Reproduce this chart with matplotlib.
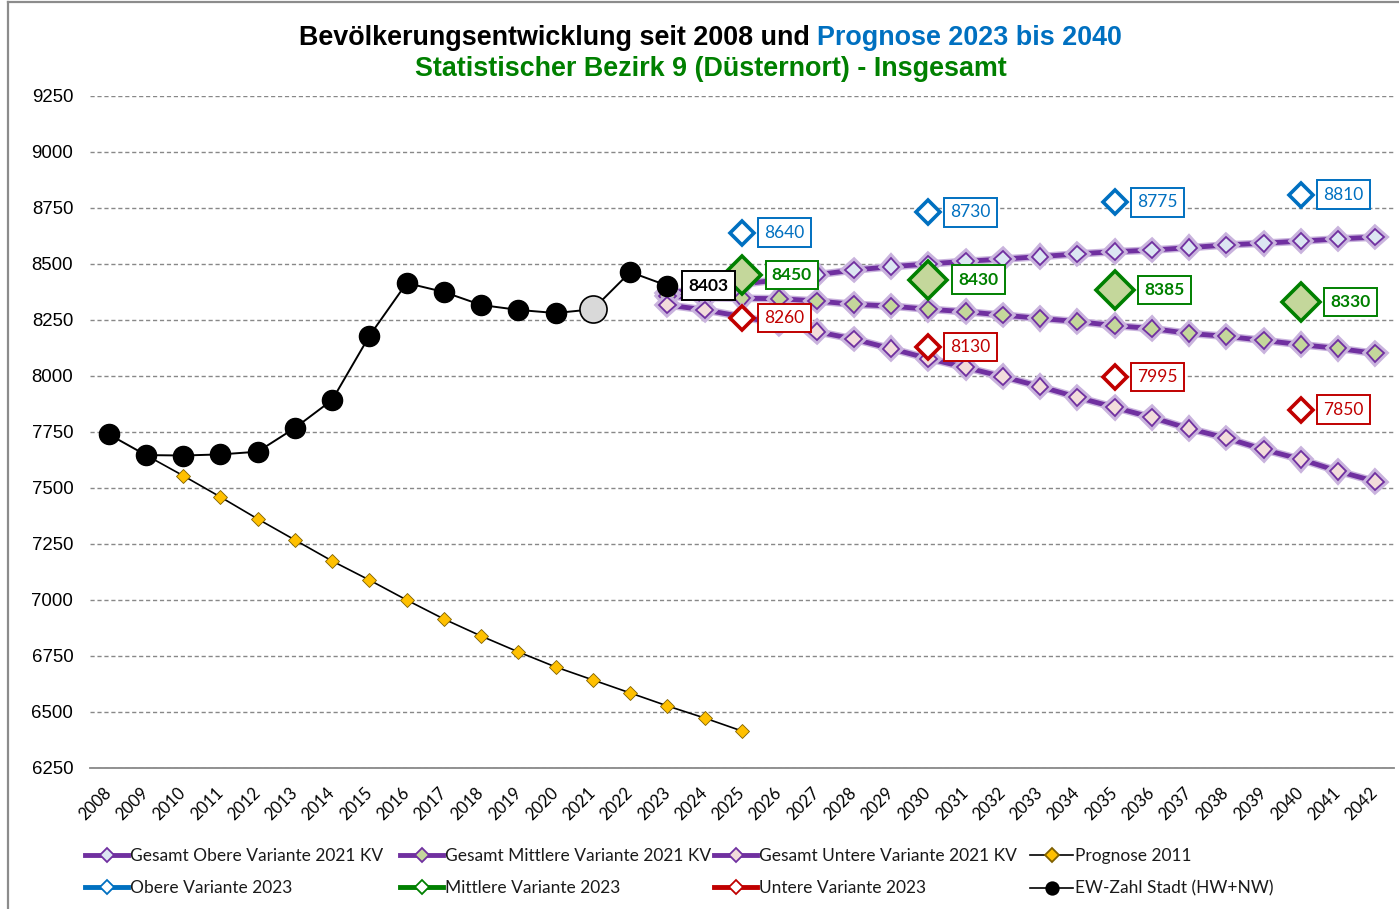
import matplotlib
matplotlib.use('Agg')
import matplotlib.pyplot as plt
from matplotlib.lines import Line2D
import matplotlib.patheffects as pe

# ---------------- data ----------------
years_all = list(range(2008, 2043))
ytick_vals = [6250, 6500, 6750, 7000, 7250, 7500, 7750, 8000, 8250, 8500, 8750, 9000, 9250]

years_ew = list(range(2008, 2024))
ew_stadt = [7740, 7647, 7645, 7650, 7662, 7768, 7893, 8179, 8415, 8375,
            8317, 8295, 8281, 8298, 8464, 8403]

years_p11 = list(range(2009, 2026))
prognose_2011 = [7647, 7555, 7460, 7362, 7268, 7174, 7089, 7000, 6915, 6839,
                 6768, 6701, 6643, 6585, 6527, 6473, 6415]

years_kv = list(range(2023, 2043))
kv_obere = [8370, 8390, 8410, 8430, 8452, 8473, 8488, 8500, 8512, 8522,
            8533, 8545, 8555, 8562, 8573, 8585, 8593, 8602, 8612, 8620]
kv_mittlere = [8355, 8350, 8347, 8345, 8335, 8320, 8312, 8298, 8287, 8272,
               8257, 8243, 8225, 8212, 8190, 8177, 8159, 8140, 8123, 8101]
kv_untere = [8317, 8295, 8265, 8232, 8198, 8165, 8122, 8078, 8038, 7997,
             7953, 7905, 7860, 7815, 7765, 7723, 7672, 7628, 7575, 7529]

years_v23 = [2025, 2030, 2035, 2040]
v23_obere = [8640, 8730, 8775, 8810]
v23_mittlere = [8450, 8430, 8385, 8330]
v23_untere = [8260, 8130, 7995, 7850]

# ---------------- style ----------------
PURPLE = '#7030a0'
BLUE = '#0070c0'
GREEN = '#008000'
RED = '#c00000'
FILL_O = '#dce6f2'
FILL_M = '#c4d79b'
FILL_U = '#f2dcdb'
YELLOW = '#ffc000'

W, H = 1399, 909
fig = plt.figure(figsize=(W / 100, H / 100), dpi=100)
ax = fig.add_axes([90 / W, 1 - 768 / H, (1394 - 90) / W, (768 - 96) / H])

ax.set_xlim(2007.5, 2042.5)
ax.set_ylim(6250, 9250)
ax.set_yticks(ytick_vals)
ax.set_yticklabels([str(v) for v in ytick_vals], fontfamily='Liberation Sans', fontsize=13.4)
ax.set_xticks(years_all)
ax.set_xticklabels([str(y) for y in years_all], rotation=45, ha='right', va='center',
                   rotation_mode='anchor', fontfamily='Lato', fontsize=12)
ax.tick_params(axis='y', length=0, pad=12)
ax.tick_params(axis='x', length=0, pad=16)
for s in ['left', 'right', 'top']:
    ax.spines[s].set_visible(False)
ax.spines['bottom'].set_color('#888888')
ax.spines['bottom'].set_linewidth(1.3)
ax.yaxis.grid(True, color='#888888', linestyle=(0, (3, 2)), linewidth=1.0)
ax.set_axisbelow(True)

glow = [pe.Stroke(linewidth=5.5, foreground='#c9b3dd'), pe.Normal()]

# purple KV series
for vals, fill in [(kv_obere, FILL_O), (kv_mittlere, FILL_M), (kv_untere, FILL_U)]:
    ax.plot(years_kv, vals, color=PURPLE, lw=3.5, marker='D', ms=8.5, mfc=fill,
            mec=PURPLE, mew=1.3, zorder=3, path_effects=glow)

# Prognose 2011
ax.plot(years_p11, prognose_2011, color='black', lw=1.2, marker='D', ms=7.2,
        mfc=YELLOW, mec='#7f6000', mew=0.6, zorder=4)

# Variante 2023 markers
ax.plot(years_v23, v23_obere, ls='none', marker='D', ms=12, mfc='white', mec=BLUE, mew=2.6, zorder=5)
ax.plot(years_v23, v23_mittlere, ls='none', marker='D', ms=19, mfc=FILL_M, mec=GREEN, mew=2.6, zorder=5)
ax.plot(years_v23, v23_untere, ls='none', marker='D', ms=12, mfc='white', mec=RED, mew=2.6, zorder=5)

# EW-Zahl Stadt
ax.plot(years_ew, ew_stadt, color='black', lw=1.4, marker='o', ms=14.5, mfc='black',
        mec='black', zorder=6)
i21 = years_ew.index(2021)
ax.plot([years_ew[i21]], [ew_stadt[i21]], ls='none', marker='o', ms=19.5, mfc='#d9d9d9',
        mec='black', mew=1.2, zorder=7)

# data labels
def label(x, y, color, dx, bold=False):
    ax.annotate(str(y), (x, y), xytext=(dx, 0), textcoords='offset points',
                ha='left', va='center', color=color, fontfamily='Lato', fontsize=12.5,
                fontweight='bold' if bold else 'normal', zorder=10,
                bbox=dict(boxstyle='square,pad=0.36', fc='white', ec=color, lw=1.4))

for x, y in zip(years_v23, v23_obere):
    label(x, y, BLUE, 16)
for x, y in zip(years_v23, v23_mittlere):
    label(x, y, GREEN, 21.5, bold=True)
for x, y in zip(years_v23, v23_untere):
    label(x, y, RED, 16)
label(years_ew[-1], ew_stadt[-1], 'black', 15, bold=True)

# ---------------- title ----------------
fig.canvas.draw()
renderer = fig.canvas.get_renderer()
tfont = dict(fontfamily='Liberation Sans', fontweight='bold', fontsize=19.4)
t1 = fig.text(0, 1 - 38 / H, 'Bevölkerungsentwicklung seit 2008 und ', color='black',
              va='center', ha='left', **tfont)
t2 = fig.text(0, 1 - 38 / H, 'Prognose 2023 bis 2040', color=BLUE, va='center', ha='left', **tfont)
w1 = t1.get_window_extent(renderer).width
w2 = t2.get_window_extent(renderer).width
cx = 710.5
x0 = cx - (w1 + w2) / 2
t1.set_x(x0 / W)
t2.set_x((x0 + w1) / W)
fig.text(cx / W, 1 - 69 / H, 'Statistischer Bezirk 9 (Düsternort) - Insgesamt', color=GREEN,
         va='center', ha='center', **tfont)

# ---------------- legend ----------------
def h(color, lw, marker, ms, mfc, mec):
    return Line2D([], [], color=color, lw=lw, marker=marker, ms=ms, mfc=mfc, mec=mec, mew=1.3)

cols = [
    (85, [(h(PURPLE, 3.5, 'D', 7, FILL_O, PURPLE), 'Gesamt Obere Variante 2021 KV'),
          (h(BLUE, 3.5, 'D', 7, 'white', BLUE), 'Obere Variante 2023')]),
    (400, [(h(PURPLE, 3.5, 'D', 7, FILL_M, PURPLE), 'Gesamt Mittlere Variante 2021 KV'),
           (h(GREEN, 3.5, 'D', 7, 'white', GREEN), 'Mittlere Variante 2023')]),
    (714, [(h(PURPLE, 3.5, 'D', 7, FILL_U, PURPLE), 'Gesamt Untere Variante 2021 KV'),
           (h(RED, 3.5, 'D', 7, 'white', RED), 'Untere Variante 2023')]),
    (1030, [(h('black', 1.2, 'D', 7, YELLOW, '#7f6000'), 'Prognose 2011'),
            (h('black', 1.2, 'o', 9, 'black', 'black'), 'EW-Zahl Stadt (HW+NW)')]),
]
for xpx, items in cols:
    leg = fig.legend([it[0] for it in items], [it[1] for it in items], loc='upper left',
                     bbox_to_anchor=(xpx / W, 1 - 848 / H), frameon=False, borderpad=0,
                     borderaxespad=0, handlelength=2.5, handletextpad=0.1, labelspacing=0.95,
                     prop=dict(family='Lato', size=12.5))
    for t in leg.get_texts():
        t.set_color('#1a1a1a')

# figure border
fig.add_artist(Line2D([7.5 / W, 7.5 / W], [0, 1 - 1.5 / H], color='#8c8c8c', lw=1.6,
                      transform=fig.transFigure))
fig.add_artist(Line2D([7.5 / W, 1], [1 - 1.5 / H, 1 - 1.5 / H], color='#8c8c8c', lw=1.6,
                      transform=fig.transFigure))

fig.savefig('out.png', dpi=100)
